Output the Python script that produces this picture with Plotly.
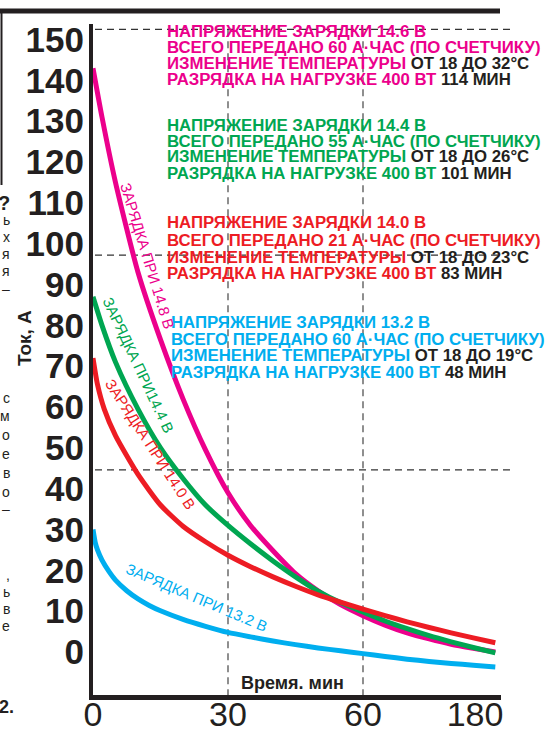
import plotly.graph_objects as go

# ---------------- data ----------------
t_148 = [0, 2, 5, 10, 15, 20, 25, 30, 35, 40, 45, 50, 55, 60, 80, 100, 120, 140, 160, 180]
i_148 = [143, 131, 115, 93, 76.5, 62, 49.5, 39, 31, 24.8, 19.2, 15.0, 11.6, 8.9, 6.6, 4.7, 3.2, 1.9, 0.9, 0.0]

t_144 = [0, 2, 5, 10, 15, 20, 25, 30, 35, 40, 45, 50, 55, 60, 80, 100, 120, 140, 160, 180]
i_144 = [87, 80, 71, 59.5, 50, 42.5, 36, 31, 26.5, 22.3, 18.4, 14.9, 12.1, 9.8, 7.6, 5.7, 4.0, 2.5, 1.1, -0.2]

t_140 = [0, 1, 2.5, 5, 10, 15, 20, 25, 30, 35, 40, 45, 50, 55, 60, 80, 100, 120, 140, 160, 180]
i_140 = [72, 65.5, 59.5, 53, 43.5, 36, 30.8, 27, 23.7, 20.9, 18.4, 16.1, 14.0, 12.2, 10.5, 8.9, 7.4, 6.0, 4.7, 3.45, 2.25]

t_132 = [0, 0.5, 1, 2, 3.5, 5, 7.5, 10, 12.5, 15, 20, 25, 30, 35, 40, 45, 50, 55, 60, 80, 100, 120, 140, 160, 180]
i_132 = [30, 26.8, 25.0, 22.5, 19.8, 17.6, 15.0, 13.0, 11.4, 10.1, 8.0, 6.3, 4.8, 3.7, 2.7, 1.8, 1.0, 0.3, -0.4, -1.1, -1.75, -2.3, -2.8, -3.25, -3.65]

x_tick_minutes = [0, 30, 60, 180]
x_tick_labels = ["0", "30", "60", "180"]
y_tick_values = list(range(0, 151, 10))

curve_labels = ["ЗАРЯДКА ПРИ 14.8 В", "ЗАРЯДКА ПРИ14.4 В", "ЗАРЯДКА ПРИ 14.0 В", "ЗАРЯДКА ПРИ 13.2 В"]

block_voltage = ["14.6", "14.4", "14.0", "13.2"]
block_amp_hours = ["60", "55", "21", "60"]
block_temp_to = ["32", "26", "23", "19"]
block_minutes = ["114", "101", "83", "48"]

grid_levels = [152.5, 97.2, 44.6]      # dashed horizontal guides (A)
grid_minutes = [30, 60]                # dashed vertical guides (min)

# ---------------- styling ----------------
PINK, GREEN, RED, BLUE, INK = "#ec008c", "#00a651", "#ed1c24", "#00aeef", "#231f20"
FONT = "Liberation Sans, Arial, sans-serif"

W, H = 548, 729
L, R_EDGE, T, B_EDGE = 93, 501, 24, 695
PW, PH = R_EDGE - L, B_EDGE - T
PX_PER_MIN = 4.5
X_MAX = PW / PX_PER_MIN
Y0_PIX, PX_PER_A = 652, 4.083
Y_MIN = -(B_EDGE - Y0_PIX) / PX_PER_A
Y_MAX = (Y0_PIX - T) / PX_PER_A


def xpos(t):
    # broken time axis: 0-60 linear, 60-180 compressed
    return t if t <= 60 else 60 + (t - 60) * 0.245


def px(x):
    return (x - L) / PW


def py(y):
    return 1 - (y - T) / PH


fig = go.Figure()
series = [(t_148, i_148, PINK), (t_144, i_144, GREEN), (t_140, i_140, RED), (t_132, i_132, BLUE)]
for ts, vs, col in series:
    fig.add_trace(go.Scatter(
        x=[xpos(t) for t in ts], y=vs, mode="lines",
        line=dict(color=col, width=5, shape="spline", smoothing=0.6),
        showlegend=False, hoverinfo="skip", cliponaxis=False))

shapes = []
dash = "7px,5px"
for lv in grid_levels:
    shapes.append(dict(type="line", xref="paper", yref="y", x0=px(95), x1=px(510 if lv != grid_levels[1] else 500),
                       y0=lv, y1=lv, line=dict(color="#333333", width=1.1, dash=dash), layer="below"))
for m in grid_minutes:
    shapes.append(dict(type="line", xref="x", yref="y", x0=xpos(m), x1=xpos(m), y0=grid_levels[0], y1=Y_MIN,
                       line=dict(color="#333333", width=1.1, dash=dash), layer="below"))
# page frame fragments
shapes.append(dict(type="line", xref="paper", yref="paper", x0=px(0), x1=px(500), y0=py(11), y1=py(11),
                   line=dict(color=INK, width=5)))
shapes.append(dict(type="line", xref="paper", yref="paper", x0=px(1.5), x1=px(1.5), y0=py(9), y1=py(185),
                   line=dict(color=INK, width=2)))

ann = []
# text blocks
block_colors = [PINK, GREEN, RED, BLUE]
block_x = [166, 166, 166, 170]
block_y = [[32, 48, 64, 80], [125, 141, 157, 173], [223, 240, 257, 273], [322, 339, 355, 372]]
for k in range(4):
    c = block_colors[k]
    lines = [
        f"НАПРЯЖЕНИЕ ЗАРЯДКИ {block_voltage[k]} В",
        f"ВСЕГО ПЕРЕДАНО {block_amp_hours[k]} А·ЧАС (ПО СЧЕТЧИКУ)",
        f"ИЗМЕНЕНИЕ ТЕМПЕРАТУРЫ <span style='color:{INK}'>ОТ 18 ДО {block_temp_to[k]}°C</span>",
        f"РАЗРЯДКА НА НАГРУЗКЕ 400 ВТ <span style='color:{INK}'>{block_minutes[k]} МИН</span>",
    ]
    for j, txt in enumerate(lines):
        ann.append(dict(text=f"<b>{txt}</b>", xref="paper", yref="paper", x=px(block_x[k]), y=py(block_y[k][j]),
                        xanchor="left", yanchor="middle", showarrow=False, borderpad=0,
                        font=dict(family=FONT, size=16.8, color=c)))

# labels along the curves
lab_pos = [(148, 256, 73), (139, 365, 65), (151, 444, 57), (197, 597, 23)]
for (x, y, a), txt, c in zip(lab_pos, curve_labels, block_colors):
    ann.append(dict(text=txt, xref="paper", yref="paper", x=px(x), y=py(y), xanchor="center", yanchor="middle",
                    textangle=a, showarrow=False, font=dict(family=FONT, size=15, color=c)))

# axis titles
ann.append(dict(text="<b>Ток, А</b>", xref="paper", yref="paper", x=px(24), y=py(338), xanchor="center",
                yanchor="middle", textangle=-90, showarrow=False, font=dict(family=FONT, size=19, color=INK)))
ann.append(dict(text="<b>Время. мин</b>", xref="paper", yref="paper", x=px(292), y=py(683), xanchor="center",
                yanchor="middle", showarrow=False, font=dict(family=FONT, size=18, color=INK)))

# cut-off letters of the neighbouring page column
edge_chars = [("?", 203, 20, True), ("ь", 220, 14, False), ("х", 237, 14, False), ("я", 254, 14, False),
              ("я", 271, 14, False), ("–", 289, 14, False), ("с", 398, 14, False), ("м", 416, 14, False),
              ("о", 435, 14, False), ("е", 454, 14, False), ("в", 473, 14, False), ("о", 492, 14, False),
              ("–", 509, 14, False), (",", 575, 14, False), ("ь", 592, 14, False), ("в", 609, 14, False),
              ("е", 626, 14, False), ("2.", 707, 18, True)]
for ch, y, s, bold in edge_chars:
    ann.append(dict(text=f"<b>{ch}</b>" if bold else ch, xref="paper", yref="paper", x=px(12 if ch != "2." else 16),
                    y=py(y), xanchor="right", yanchor="middle", showarrow=False,
                    font=dict(family=FONT, size=s, color=INK)))

x_tick_pos = [xpos(t) for t in x_tick_minutes]
x_tick_pos[-1] -= 4.5  # label of the compressed tail sits left of the line end

fig.update_layout(
    width=W, height=H, margin=dict(l=L, r=W - R_EDGE, t=T, b=H - B_EDGE),
    paper_bgcolor="white", plot_bgcolor="white",
    shapes=shapes, annotations=ann,
    xaxis=dict(range=[0, X_MAX], showgrid=False, zeroline=False, showline=True, linecolor=INK, linewidth=5,
               tickmode="array", tickvals=x_tick_pos, ticktext=x_tick_labels, automargin=False,
               ticks="", tickfont=dict(family=FONT, size=34, color=INK), ticklabelstandoff=-15),
    yaxis=dict(range=[Y_MIN, Y_MAX], showgrid=False, zeroline=False, showline=True, linecolor=INK, linewidth=4,
               tickmode="array", tickvals=y_tick_values, ticks="", automargin=False,
               tickfont=dict(family=FONT, size=35, color=INK, weight="bold"), ticklabelstandoff=-2),
)

fig.write_html("out.html", config={"displayModeBar": False},
               post_script="document.body.style.margin='0';document.body.style.overflow='hidden';")
